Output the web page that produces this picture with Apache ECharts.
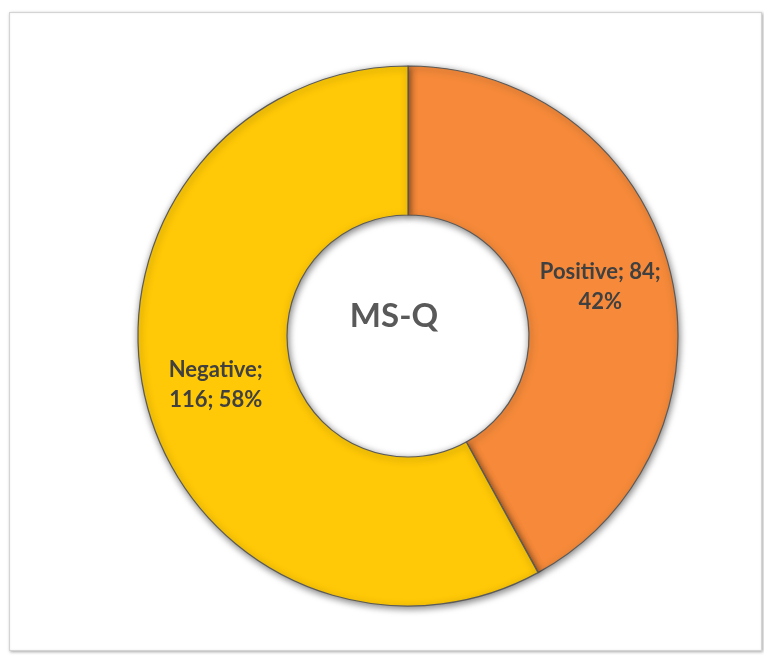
<!DOCTYPE html>
<html>
<head>
<meta charset="utf-8">
<script src="https://cdn.jsdelivr.net/npm/echarts@6/dist/echarts.min.js"></script>
<style>
  html, body { margin: 0; padding: 0; background: #ffffff; }
  #frame {
    position: absolute; left: 9px; top: 12px; width: 751px; height: 637px;
    border: 1px solid #d4d4d4;
    box-shadow: 1px 1px 3px rgba(0,0,0,0.35), inset 0 0 2px rgba(0,0,0,0.08);
    background: #ffffff;
  }
  #chart { position: absolute; left: 0; top: 0; width: 764px; height: 655px; }
</style>
</head>
<body>
<div id="frame"></div>
<div id="chart"></div>
<script>
// MS-Q result counts
const categories = ['Positive', 'Negative'];
const counts = [84, 116];
const sliceColors = ['#F68A3A', '#FFC907'];
const centerTitle = 'MS-Q';

const chart = echarts.init(document.getElementById('chart'), null, { renderer: 'canvas' });

// label line break placement per slice
const labelTemplates = [
  p => p.name + '; ' + p.value + ';\n' + Math.round(p.percent) + '%',
  p => p.name + ';\n' + p.value + '; ' + Math.round(p.percent) + '%'
];

chart.setOption({
  backgroundColor: 'transparent',
  animation: false,
  graphic: [{
    type: 'text',
    x: 394, y: 316,
    style: {
      text: centerTitle,
      fill: '#595959',
      font: 'bold 33px Lato, "Open Sans", sans-serif',
      align: 'center',
      verticalAlign: 'middle'
    }
  }],
  series: [{
    type: 'pie',
    center: [408, 336],
    radius: [121, 270],
    startAngle: 90,
    clockwise: true,
    avoidLabelOverlap: false,
    itemStyle: {
      borderColor: '#5a5a5a',
      borderWidth: 1.2,
      shadowBlur: 7,
      shadowOffsetX: 1,
      shadowOffsetY: 2,
      shadowColor: 'rgba(0,0,0,0.5)'
    },
    label: {
      show: true,
      position: 'inside',
      color: '#404040',
      fontFamily: 'Lato, "Open Sans", sans-serif',
      fontWeight: 'bold',
      fontSize: 22,
      lineHeight: 30,
      padding: [10, 0, 0, 0],
      align: 'center',
      formatter: p => labelTemplates[p.dataIndex](p)
    },
    labelLine: { show: false },
    emphasis: { disabled: true },
    data: categories.map((name, i) => ({
      name: name,
      value: counts[i],
      itemStyle: { color: sliceColors[i] }
    }))
  }]
});
</script>
</body>
</html>
